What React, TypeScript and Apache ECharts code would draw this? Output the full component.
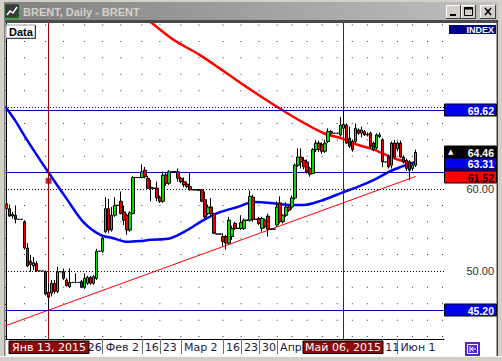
import React, { useEffect, useRef } from 'react';
import * as echarts from 'echarts';

// ---- data ----
const N_SLOTS = 146;
const opens = [58.2,57.6,56.7,56.8,56.3,56.3,56.0,52.8,51.2,50.6,50.9,50.0,50.0,49.9,47.4,47.3,48.5,47.5,49.9,49.9,48.9,48.1,48.6,48.6,48.6,48.7,48.0,48.5,49.2,48.5,49.1,52.4,52.4,54.8,57.6,55.0,56.8,58.0,58.5,57.2,56.8,55.0,57.0,61.4,61.4,61.4,62.3,61.3,60.2,60.1,60.1,59.0,58.5,61.7,60.7,62.1,62.1,62.1,61.3,60.9,60.6,60.3,59.9,59.9,59.9,59.9,58.7,57.0,57.8,57.0,54.5,54.5,54.2,54.2,53.4,54.2,55.8,55.2,55.2,55.2,56.2,56.2,59.0,56.3,56.4,55.2,56.2,56.7,55.1,55.1,55.6,58.3,56.0,56.8,57.8,57.8,58.9,62.9,63.9,63.5,63.3,62.5,61.9,64.8,65.6,65.4,64.6,65.8,67.0,66.8,66.8,66.6,67.4,67.8,66.2,65.8,65.8,67.2,66.8,67.0,66.6,66.8,65.6,65.0,66.4,66.0,63.3,63.9,62.9,65.6,64.9,65.6,63.9,63.5,63.3,62.5,62.9];
const highs = [58.5,58.1,57.2,58.0,56.3,56.3,56.2,53.4,51.95,51.7,51.2,50.0,50.0,50.1,48.6,48.9,48.9,50.5,49.9,50.3,49.1,50.3,48.6,49.7,48.6,48.9,49.7,49.4,49.4,49.5,52.7,52.4,54.2,59.0,58.8,57.8,59.0,58.0,59.7,58.0,57.0,57.3,61.6,61.4,61.4,63.0,62.7,61.6,61.1,60.1,60.9,59.2,62.1,62.0,62.3,62.1,62.1,62.5,61.5,61.4,60.9,62.1,59.9,59.9,60.0,60.0,59.7,58.1,58.9,57.1,54.5,54.5,54.6,54.4,56.6,55.5,56.0,55.2,56.8,56.4,56.2,59.8,59.3,56.3,56.6,56.6,56.4,57.0,55.1,55.1,58.5,59.1,56.9,58.4,58.0,59.2,63.1,64.96,64.96,63.9,63.6,62.7,65.0,66.0,65.9,65.7,66.0,67.4,67.2,66.8,66.8,68.8,69.65,68.0,67.6,66.0,68.0,67.4,67.6,67.2,66.9,67.0,65.8,66.8,66.9,66.2,63.3,64.2,65.8,66.0,65.8,65.9,64.1,63.7,63.5,63.1,64.8];
const lows = [57.5,56.6,56.4,55.8,56.3,56.3,52.6,50.5,49.9,50.1,49.9,50.0,50.0,47.0,45.2,46.9,47.2,47.3,49.9,48.9,48.1,47.9,48.6,48.5,48.6,47.9,47.8,48.3,48.3,48.3,48.9,52.4,52.2,54.6,54.6,54.8,56.6,58.0,56.9,55.6,54.4,54.8,56.9,61.4,61.4,61.3,61.3,60.0,58.5,60.1,58.5,58.3,58.3,60.4,60.5,62.1,62.1,60.9,60.7,60.2,60.1,59.8,59.9,59.9,59.8,58.4,56.4,56.8,56.6,54.5,54.5,54.5,53.0,52.6,53.2,53.8,55.0,55.2,55.0,55.0,56.2,56.0,56.0,56.3,55.6,54.8,55.2,54.2,55.1,55.1,55.4,55.8,55.8,56.6,57.2,57.5,58.7,62.7,62.5,62.4,61.9,61.5,61.8,64.5,64.5,64.3,64.4,65.6,66.5,66.8,66.8,66.4,66.8,65.5,65.0,64.55,65.6,66.6,66.3,66.5,66.4,64.9,64.6,64.8,66.2,62.7,63.3,62.5,62.5,63.8,64.6,63.8,63.1,62.2,61.1,62.2,62.7];
const closes = [57.6,56.7,56.9,56.3,56.3,56.3,52.8,50.6,50.8,51.0,50.0,50.0,50.0,47.2,46.8,48.5,47.5,49.9,49.9,49.1,48.2,48.6,48.6,48.6,48.6,48.0,49.1,49.2,48.5,49.3,52.4,52.4,54.0,57.6,55.0,56.8,58.0,58.0,57.0,56.2,55.0,57.1,61.4,61.4,61.4,62.1,61.5,60.1,60.1,60.1,58.9,58.5,61.7,60.7,62.1,62.1,62.1,61.3,60.9,60.5,60.3,59.9,59.9,59.9,59.85,58.5,56.6,57.8,57.0,54.6,54.5,54.5,53.6,53.4,56.2,55.2,55.2,55.2,55.9,56.2,56.2,59.1,56.3,56.3,55.8,56.4,55.4,55.1,55.1,55.1,57.8,56.0,56.8,57.8,57.4,58.9,62.9,63.9,63.3,62.7,62.1,61.8,64.8,65.6,64.8,64.6,65.6,67.0,66.8,66.8,66.8,67.8,67.9,65.6,65.2,64.8,67.4,66.8,67.2,66.6,66.7,65.2,64.8,66.6,66.6,63.3,63.3,62.7,65.6,63.9,65.6,63.9,63.3,62.5,62.3,62.9,64.46];

// moving averages and trend line: [slot index, price]
const blueMA = [[-0.5,70.1],[2.8,68.4],[6.8,66.0],[13.8,62.1],[20.2,58.7],[25.5,56.0],[31.2,54.4],[35.5,54.0],[40.2,53.55],[44.5,53.65],[47.8,53.8],[54.5,54.0],[60.2,55.0],[65.5,56.2],[71.2,57.2],[76.8,57.8],[82.2,58.4],[87.8,58.3],[93.5,58.05],[98.8,58.05],[104.5,58.55],[111.2,59.5],[116.8,60.25],[122.2,61.1],[127.8,62.2],[131.2,62.7],[136,63.31]];
const redMA = [[44,81.5],[47.8,80.4],[55.5,78.2],[64.5,76.3],[81.2,72.1],[94.5,69.0],[105.5,66.8],[111.2,66.2],[116.8,65.4],[122.2,64.8],[127.8,63.9],[132.8,63.3],[136,63.1]];
const trendLine = [[-0.5,43.29],[136,61.52]];
const levelLines = [69.62, 62.1, 45.2];
const majorLevels = [50, 60, 70];
const marker = [14, 61.0];

// axes
const Y_MIN = 41.7;
const Y_MAX = 80.25;
const yTickValues = [42,44,46,48,50,52,54,56,58,60,62,64,66,68,70,72,74,76,78,80];
const yLabelValues = [50, 60];
const gridCols = [0,6,13,19,26,32,38,45,51,58,64,72,78,84,90,95,100,105,110,115,120,125,130,135,140,145];
const labelIdx = [26,32,45,51,58,72,78,84,90,125,130];
const labelText = ['26','Фев 2','16','23','Мар 2','16','23','30','Апр','11','Июн 1'];
const cursorIdx = [14, 112];
const cursorText = ['Янв 13, 2015', 'Май 06, 2015'];

// price tags on the right scale (first one is hidden under its neighbours)
const tagValues = [62.43, 69.62, 63.31, 64.46, 61.52, 45.20];
const tagKinds = ['hidden', 'blue', 'blue', 'last', 'red', 'blue'];

export default function App() {
  const ref = useRef<HTMLDivElement>(null);
  useEffect(() => {
    const el = ref.current as HTMLDivElement;
    const chart = echarts.init(el, null, { renderer: 'svg' });
    const categories = Array.from({ length: N_SLOTS }, (_, i) => String(i));
    const candleData = opens.map((o, i) => [o, closes[i], lows[i], highs[i]]);
    const gridRows = yTickValues.filter((v) => !majorLevels.includes(v));
    const dots: number[][] = [];
    gridCols.forEach((c) => gridRows.forEach((r) => dots.push([c, r])));

    const markData: any[] = [];
    majorLevels.forEach((v) => markData.push({ yAxis: v, lineStyle: { color: '#000', width: 1, type: [1, 2] } }));
    levelLines.forEach((v) => markData.push({ yAxis: v, lineStyle: { color: '#0000c8', width: 1, type: 'solid' } }));
    cursorIdx.forEach((i) => markData.push({ xAxis: i, lineStyle: { color: '#a00000', width: 1, type: 'solid' } }));

    const isLabel = (i: number) => labelIdx.includes(i);

    chart.setOption({
      animation: false,
      backgroundColor: '#ffffff',
      grid: { left: 5, right: 58, top: 23, bottom: 22, containLabel: false },
      xAxis: [
        {
          type: 'category', data: categories, boundaryGap: true,
          axisLine: { show: true, lineStyle: { color: '#000', width: 1 } },
          axisTick: { show: true, alignWithLabel: true, length: 15, interval: (i: number) => isLabel(i), lineStyle: { color: '#707070' } },
          axisLabel: {
            show: true, interval: (i: number) => isLabel(i),
            formatter: (_v: string, i: number) => { const k = labelIdx.indexOf(i); return k >= 0 ? labelText[k] : ''; },
            align: 'left', padding: [0, 0, 0, 3], margin: 3,
            fontFamily: 'DejaVu Sans', fontSize: 11, color: '#1c1c40',
          },
          splitLine: { show: false },
        },
        { type: 'value', min: -0.5, max: N_SLOTS - 0.5, show: false, splitLine: { show: false } },
      ],
      yAxis: {
        type: 'value', position: 'right', min: Y_MIN, max: Y_MAX,
        axisLine: { show: true, lineStyle: { color: '#000', width: 1 } },
        axisTick: { show: true, inside: true, length: 3, customValues: yTickValues, lineStyle: { color: '#000' } },
        axisLabel: {
          show: true, customValues: yLabelValues, formatter: (v: number) => v.toFixed(2),
          align: 'right', margin: 50, fontFamily: 'Liberation Sans', fontSize: 11, color: '#303030',
        },
        splitLine: { show: false },
      },
      series: [
        {
          type: 'scatter', xAxisIndex: 1, yAxisIndex: 0, data: dots, symbol: 'rect', symbolSize: 1,
          itemStyle: { color: '#000' }, silent: true, z: 1,
          markLine: { silent: true, symbol: ['none', 'none'], label: { show: false }, data: markData },
        },
        {
          type: 'line', xAxisIndex: 1, yAxisIndex: 0, data: redMA, smooth: 0.3, showSymbol: false,
          lineStyle: { color: '#ff0000', width: 2.5 }, z: 3, silent: true,
        },
        {
          type: 'line', xAxisIndex: 1, yAxisIndex: 0, data: blueMA, smooth: 0.3, showSymbol: false,
          lineStyle: { color: '#0000ff', width: 2.5 }, z: 3, silent: true,
        },
        {
          type: 'line', xAxisIndex: 1, yAxisIndex: 0, data: trendLine, showSymbol: false,
          lineStyle: { color: '#ff0000', width: 1 }, z: 3, silent: true,
        },
        {
          type: 'candlestick', xAxisIndex: 0, yAxisIndex: 0, data: candleData, barWidth: 3,
          itemStyle: { color: '#00e000', color0: '#e80000', borderColor: '#000', borderColor0: '#000', borderColorDoji: '#000', borderWidth: 1 },
          z: 5, silent: true,
        },
        {
          type: 'scatter', xAxisIndex: 1, yAxisIndex: 0, data: [marker], symbol: 'rect', symbolSize: 6,
          itemStyle: { color: '#a00000' }, z: 6, silent: true,
        },
      ],
    });

    const ty = (v: number) => Math.round(chart.convertToPixel({ yAxisIndex: 0 }, v) as number);
    const tx = (i: number) => Math.round(chart.convertToPixel({ xAxisIndex: 1 }, i) as number);
    const Z = 100;
    const g: any[] = [];
    const rect = (x: number, y: number, w: number, h: number, style: any, z = Z) => g.push({ type: 'rect', shape: { x, y, width: w, height: h }, style, z, silent: true });
    const line = (x1: number, y1: number, x2: number, y2: number, stroke: string, lw = 1, z = Z) => g.push({ type: 'line', shape: { x1, y1, x2, y2 }, style: { stroke, lineWidth: lw }, z, silent: true });
    const text = (x: number, y: number, t: string, style: any, z = Z + 2) => g.push({ type: 'text', x, y, style: { text: t, verticalAlign: 'middle', ...style }, z, silent: true });

    // window chrome
    rect(0, 0, 502, 23, { fill: '#d4d0c8' });
    rect(2, 2, 497, 18, { fill: new echarts.graphic.LinearGradient(0, 0, 1, 0, [{ offset: 0, color: '#808080' }, { offset: 1, color: '#c0c0c0' }]) });
    rect(0, 20, 502, 3, { fill: '#4a4a4a' });
    rect(0, 0, 4, 361, { fill: '#d4d0c8' });
    rect(4, 20, 1.5, 337, { fill: '#808080' });
    rect(498, 0, 4, 361, { fill: '#d4d0c8' });
    rect(496.5, 20, 1.5, 337, { fill: '#404040' });
    rect(0, 356, 502, 5, { fill: '#d4d0c8' });
    line(0, 356.5, 502, 356.5, '#ffffff');
    // icon
    rect(5, 4, 14, 14, { fill: '#3a3a3a', stroke: '#00c000', lineWidth: 1, lineDash: [1, 1] });
    g.push({ type: 'polyline', shape: { points: [[7, 15], [10, 11], [13, 13], [17, 7]] }, style: { stroke: '#ffffff', lineWidth: 1.5, fill: 'none' }, z: Z + 1, silent: true });
    text(23, 12, 'BRENT, Daily - BRENT', { fill: '#d4d0c8', font: 'bold 11px "Liberation Sans"' });
    // window buttons
    [[446, 15], [461, 15], [480, 16]].forEach(([bx, bw]) => {
      rect(bx, 5, bw, 14, { fill: '#d4d0c8' }, Z + 1);
      line(bx, 5.5, bx + bw, 5.5, '#ffffff', 1, Z + 1);
      line(bx + 0.5, 5, bx + 0.5, 19, '#ffffff', 1, Z + 1);
      line(bx, 18.5, bx + bw, 18.5, '#404040', 1, Z + 1);
      line(bx + bw - 0.5, 5, bx + bw - 0.5, 19, '#404040', 1, Z + 1);
    });
    rect(450, 14, 6, 2, { fill: '#000' }, Z + 2);
    rect(464.5, 7.5, 8, 8, { fill: 'none', stroke: '#000', lineWidth: 1 }, Z + 2);
    rect(464.5, 7.5, 8, 2, { fill: '#000' }, Z + 2);
    line(485, 8, 491, 15, '#000', 1.6, Z + 2);
    line(491, 8, 485, 15, '#000', 1.6, Z + 2);

    // Data / INDEX boxes
    rect(6, 25, 29, 13, { fill: '#ffffff', stroke: '#a0a0a0', lineWidth: 1 });
    line(35.5, 25, 35.5, 39, '#404040');
    line(6, 38.5, 36, 38.5, '#404040');
    text(9, 31.5, 'Data', { fill: '#000', font: 'bold 11px "Liberation Sans"' });
    rect(449, 25, 47, 9, { fill: '#000088' });
    text(494, 29.7, 'INDEX', { fill: '#ffffff', font: 'bold 9px "Liberation Sans"', align: 'right' });

    // price tags: pushed apart so their texts do not collide
    const order = tagValues.map((v, k) => ({ k, cy: ty(v) })).sort((a, b) => a.cy - b.cy);
    let prev = -1000;
    order.forEach((o) => {
      if (tagKinds[o.k] === 'hidden') return;
      if (o.cy < prev + 11) o.cy = prev + 11;
      prev = o.cy;
    });
    const pos: Record<number, number> = {};
    order.forEach((o) => { pos[o.k] = o.cy; });
    tagValues.forEach((v, k) => {
      const kind = tagKinds[k];
      const cy = pos[k];
      const fill = kind === 'red' ? '#ff0000' : kind === 'last' ? '#000000' : '#0000f0';
      const fg = kind === 'red' ? '#200000' : '#ffffff';
      rect(444.5, cy - 6, 52, 12, { fill, stroke: '#000', lineWidth: 1 }, Z + k);
      if (kind !== 'hidden') text(494, cy + 0.5, v.toFixed(2), { fill: fg, font: 'bold 10.5px "Liberation Sans"', align: 'right' }, Z + k);
      if (kind === 'last') text(448, cy, '▲', { fill: '#ffffff', font: '7px "DejaVu Sans"' }, Z + k);
    });

    // cursor date boxes
    cursorIdx.forEach((i, k) => {
      const cx = tx(i);
      rect(cx - 40, 341, 80, 12.5, { fill: '#8c0a0a', stroke: '#000', lineWidth: 1 }, Z + 10);
      text(cx, 347.5, cursorText[k], { fill: '#ffffff', font: '11px "DejaVu Sans"', align: 'center' }, Z + 11);
    });

    // bottom-right button
    rect(465, 342, 15, 14, { fill: '#5028d0' });
    rect(467.5, 344.5, 10, 9, { fill: 'none', stroke: '#ffffff', lineWidth: 1 }, Z + 1);
    line(470, 346, 470, 352, '#ffffff', 1, Z + 1);
    line(471, 349, 476, 349, '#ffffff', 1, Z + 1);
    g.push({ type: 'polyline', shape: { points: [[473.5, 346.5], [471, 349], [473.5, 351.5]] }, style: { stroke: '#ffffff', lineWidth: 1, fill: 'none' }, z: Z + 1, silent: true });

    chart.setOption({ graphic: g });

    return () => chart.dispose();
  }, []);

  return <div ref={ref} style={{ position: 'absolute', left: 0, top: 0, width: 502, height: 361 }} />;
}
